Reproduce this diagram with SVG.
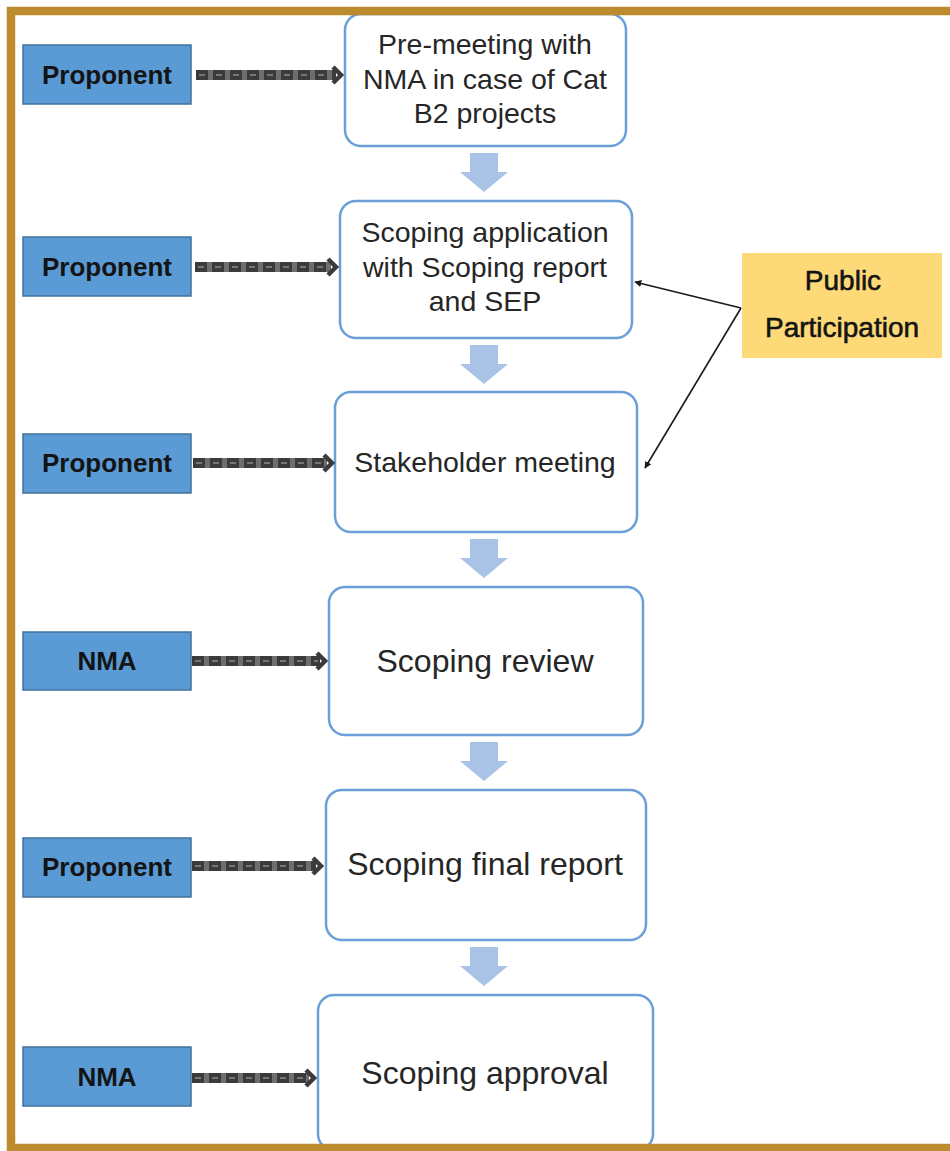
<svg xmlns="http://www.w3.org/2000/svg" width="950" height="1151" viewBox="0 0 950 1151">
<style>
.step{fill:#ffffff;stroke:#6a9fd8;stroke-width:2.5}
.actor{fill:#5b9bd5;stroke:#41719c;stroke-width:1.5}
.pub{fill:#fdd978;stroke:none}
.st{font-family:"Liberation Sans",Arial,sans-serif;fill:#262626;text-anchor:middle}
.s1{font-size:28.5px}
.s2{font-size:32px}
.at{font-family:"Liberation Sans",Arial,sans-serif;font-weight:bold;font-size:26px;fill:#141414;text-anchor:middle}
.pt{font-family:"Liberation Sans",Arial,sans-serif;font-size:28px;fill:#141414;stroke:#141414;stroke-width:0.6;text-anchor:middle}
.bk{fill:#a9c3e6}
.band{stroke:#6e6e6e;stroke-width:10;fill:none}
.dash{stroke:#3b3b3b;stroke-width:10;stroke-dasharray:12 5;fill:none}
.mid{stroke:#777777;stroke-width:2;stroke-dasharray:6 11;fill:none}
.head{stroke:#3b3b3b;stroke-width:4.5;fill:none;stroke-linejoin:miter}
.pp{stroke:#1a1a1a;stroke-width:1.6;fill:none;marker-end:url(#ah)}
</style>
<defs>
<marker id="ah" viewBox="0 0 10 10" refX="9" refY="5" markerWidth="7" markerHeight="7" orient="auto" markerUnits="userSpaceOnUse">
<path d="M0,0 L10,5 L0,10 Z" fill="#1a1a1a"/>
</marker>
</defs>
<rect width="950" height="1151" fill="#ffffff"/>

<g id="step1"><rect class="step" x="345" y="14" width="281" height="132" rx="16"/>
<text class="st s1" x="485" y="54">Pre-meeting with</text>
<text class="st s1" x="485" y="89">NMA in case of Cat</text>
<text class="st s1" x="485" y="123">B2 projects</text></g>
<g id="step2"><rect class="step" x="340" y="201" width="292" height="137" rx="16"/>
<text class="st s1" x="485" y="242">Scoping application</text>
<text class="st s1" x="485" y="277">with Scoping report</text>
<text class="st s1" x="485" y="311">and SEP</text></g>
<g id="step3"><rect class="step" x="335" y="392" width="302" height="140" rx="16"/>
<text class="st s1" x="485" y="472">Stakeholder meeting</text></g>
<g id="step4"><rect class="step" x="329" y="587" width="314" height="148" rx="16"/>
<text class="st s2" x="485" y="672">Scoping review</text></g>
<g id="step5"><rect class="step" x="326" y="790" width="320" height="150" rx="16"/>
<text class="st s2" x="485" y="875">Scoping final report</text></g>
<g id="step6"><rect class="step" x="318" y="995" width="335" height="155" rx="16"/>
<text class="st s2" x="485" y="1084">Scoping approval</text></g>

<g id="actor1"><rect class="actor" x="23" y="45" width="168" height="59"/><text class="at" x="107" y="84">Proponent</text></g>
<g id="actor2"><rect class="actor" x="23" y="237" width="168" height="59"/><text class="at" x="107" y="276">Proponent</text></g>
<g id="actor3"><rect class="actor" x="23" y="434" width="168" height="59"/><text class="at" x="107" y="472">Proponent</text></g>
<g id="actor4"><rect class="actor" x="23" y="632" width="168" height="58"/><text class="at" x="107" y="670">NMA</text></g>
<g id="actor5"><rect class="actor" x="23" y="838" width="168" height="59"/><text class="at" x="107" y="876">Proponent</text></g>
<g id="actor6"><rect class="actor" x="23" y="1047" width="168" height="59"/><text class="at" x="107" y="1086">NMA</text></g>

<g id="public"><rect class="pub" x="742" y="253" width="200" height="105"/>
<text class="pt" x="843" y="290">Public</text>
<text class="pt" x="842" y="337">Participation</text></g>

<g id="connectors">
<g id="flow">
<path class="bk" d="M470,153 H498 V172 H508 L484,192 L460,172 H470 Z"/>
<path class="bk" d="M470,345 H498 V364 H508 L484,384 L460,364 H470 Z"/>
<path class="bk" d="M470,539 H498 V558 H508 L484,578 L460,558 H470 Z"/>
<path class="bk" d="M470,742 H498 V761 H508 L484,781 L460,761 H470 Z"/>
<path class="bk" d="M470,947 H498 V966 H508 L484,986 L460,966 H470 Z"/>
</g>
<g id="actorlinks">
<path class="band" d="M196,75 H336"/><path class="dash" d="M196,75 H336"/><path class="mid" d="M199,75 H334"/><path class="head" d="M333,67 L341,75 L333,83"/>
<path class="band" d="M195,267 H331"/><path class="dash" d="M195,267 H331"/><path class="mid" d="M198,267 H329"/><path class="head" d="M328,259 L336,267 L328,275"/>
<path class="band" d="M193,463 H327"/><path class="dash" d="M193,463 H327"/><path class="mid" d="M196,463 H325"/><path class="head" d="M324,455 L332,463 L324,471"/>
<path class="band" d="M192,661 H320"/><path class="dash" d="M192,661 H320"/><path class="mid" d="M195,661 H318"/><path class="head" d="M317,653 L325,661 L317,669"/>
<path class="band" d="M192,866 H316"/><path class="dash" d="M192,866 H316"/><path class="mid" d="M195,866 H314"/><path class="head" d="M313,858 L321,866 L313,874"/>
<path class="band" d="M192,1078 H309"/><path class="dash" d="M192,1078 H309"/><path class="mid" d="M195,1078 H307"/><path class="head" d="M306,1070 L314,1078 L306,1086"/>
</g>
<g id="publinks">
<path class="pp" d="M741,308 L635,282"/>
<path class="pp" d="M741,308 L645,468"/>
</g>
</g>

<rect x="11" y="11" width="960" height="1137" fill="none" stroke="#bb8b2d" stroke-width="8.5"/>
</svg>
